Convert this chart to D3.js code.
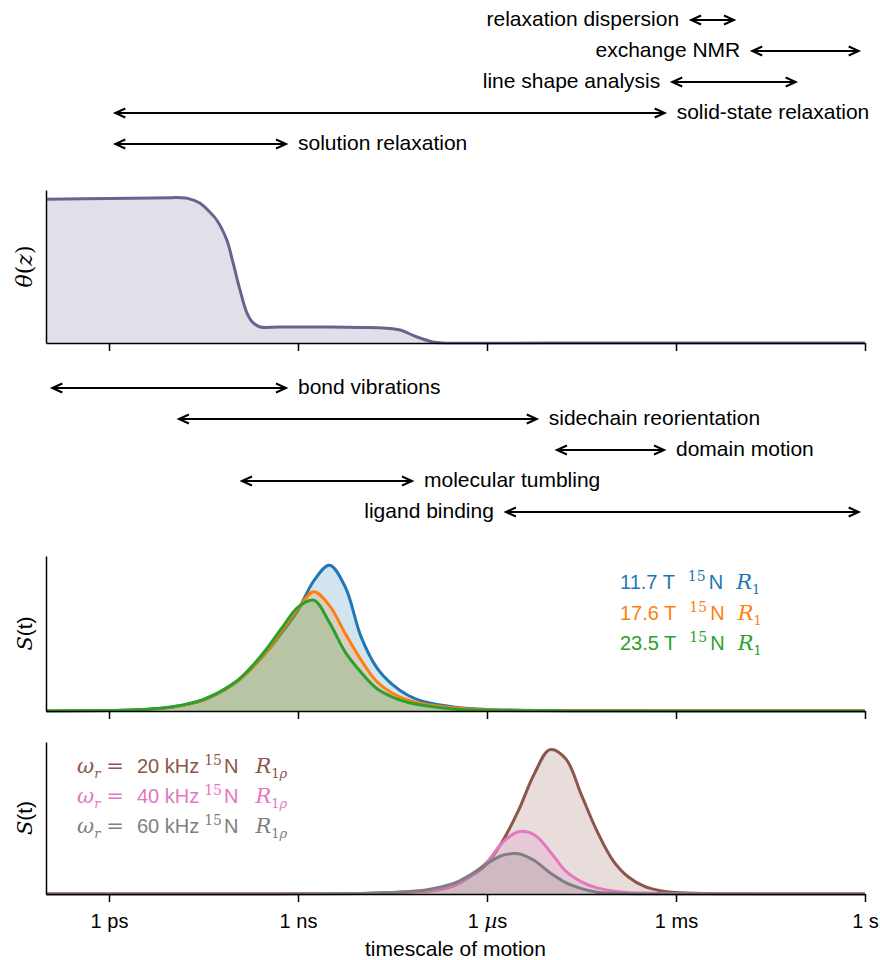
<!DOCTYPE html>
<meta charset="utf-8">
<head>
  <title>Timescales of motion</title>
</head>
<body>
<style>

  body {
    margin: 0;
    background: #fff;
  }

  svg text {
    font-family: "Liberation Sans", Arial, sans-serif;
    font-size: 21px;
    fill: #000;
  }

  svg text .math, svg text.math {
    font-family: "DejaVu Serif", "Liberation Serif", serif;
  }

  .axis path, .axis line {
    stroke: #000;
    stroke-width: 1.5px;
  }

  .axis text {
    font-size: 20px;
  }

  .arrow {
    fill: none;
    stroke: #000;
    stroke-width: 2px;
  }

</style>
<div id="chart"></div>
<script src="https://cdn.jsdelivr.net/npm/d3@7"></script>
<script>

// x values are log10 of the timescale in seconds
var tickValues = [-12, -9, -6, -3, 0];
var tickLabels = ["1 ps", "1 ns", "1 \u00b5s", "1 ms", "1 s"];

// NMR methods (top block of arrows)
var methodNames = ["relaxation dispersion", "exchange NMR", "line shape analysis", "solid-state relaxation", "solution relaxation"];
var methodStart = [-2.76, -1.79, -3.06, -11.9, -11.9];
var methodEnd   = [-2.08, -0.1, -1.1, -3.18, -9.19];
var methodSide  = ["left", "left", "left", "right", "right"];

// kinds of motion (middle block of arrows)
var motionNames = ["bond vibrations", "sidechain reorientation", "domain motion", "molecular tumbling", "ligand binding"];
var motionStart = [-12.9, -10.89, -4.89, -9.89, -5.7];
var motionEnd   = [-9.19, -5.21, -3.19, -7.19, -0.1];
var motionSide  = ["right", "right", "right", "right", "left"];

// distribution of motion theta(z)
var thetaZ      = [-13, -12, -11, -10.87, -10.75, -10.56, -10.4, -10.29, -10.13, -10.03, -9.92, -9.81, -9.71, -9.6, -9.3, -8.5, -8, -7.65, -7.38, -7.11, -6.86, -6.7, -5, 0];
var thetaValues = [0.94, 0.944, 0.95, 0.95, 0.945, 0.915, 0.856, 0.804, 0.673, 0.523, 0.346, 0.196, 0.131, 0.105, 0.104, 0.104, 0.101, 0.098, 0.085, 0.039, 0.007, 0, 0, 0];

// 15N R1 sensitivities
var r1Z      = [-13, -12, -11.5, -11, -10.5, -10, -9.75, -9.5, -9.25, -9, -8.75, -8.5, -8.25, -8, -7.75, -7.5, -7.25, -7, -6.5, -6, -5, -4, -2, 0];
var r1Fields = ["11.7", "17.6", "23.5"];
var r1At117  = [0, 0.003, 0.008, 0.025, 0.07, 0.18, 0.27, 0.38, 0.51, 0.65, 0.84, 0.94, 0.80, 0.48, 0.28, 0.17, 0.10, 0.06, 0.025, 0.01, 0.003, 0.001, 0, 0];
var r1At176  = [0, 0.003, 0.008, 0.025, 0.07, 0.18, 0.27, 0.38, 0.52, 0.66, 0.77, 0.68, 0.50, 0.33, 0.19, 0.115, 0.07, 0.045, 0.02, 0.008, 0.002, 0.001, 0, 0];
var r1At235  = [0, 0.003, 0.009, 0.027, 0.075, 0.185, 0.28, 0.40, 0.54, 0.67, 0.715, 0.57, 0.38, 0.25, 0.145, 0.09, 0.055, 0.035, 0.012, 0.005, 0.001, 0, 0, 0];

// 15N R1rho sensitivities
var r1rhoZ     = [-13, -10, -9, -8, -7.5, -7, -6.75, -6.5, -6.25, -6, -5.75, -5.5, -5.25, -5, -4.75, -4.5, -4.25, -4, -3.75, -3.5, -3.25, -3, -2.5, -2, -1, 0];
var spinRates  = ["20", "40", "60"];
var r1rhoAt20  = [0, 0, 0.001, 0.004, 0.01, 0.018, 0.03, 0.06, 0.12, 0.2, 0.35, 0.55, 0.79, 0.95, 0.89, 0.65, 0.41, 0.22, 0.11, 0.05, 0.022, 0.01, 0.003, 0.001, 0, 0];
var r1rhoAt40  = [0, 0, 0.001, 0.004, 0.01, 0.02, 0.03, 0.06, 0.12, 0.21, 0.34, 0.41, 0.39, 0.28, 0.15, 0.08, 0.04, 0.02, 0.01, 0.006, 0.004, 0.002, 0, 0, 0, 0];
var r1rhoAt60  = [0, 0, 0.001, 0.004, 0.01, 0.025, 0.045, 0.075, 0.13, 0.2, 0.255, 0.265, 0.22, 0.14, 0.075, 0.035, 0.012, 0.005, 0.002, 0, 0, 0, 0, 0, 0, 0];

(function() {

var width = 880,
    height = 960;

var svg = d3.select("#chart").append("svg")
    .attr("width", width)
    .attr("height", height);

var x = d3.scaleLinear()
    .domain([-13, 0])
    .range([46, 865]);

var tab = {blue: "#1f77b4", orange: "#ff7f0e", green: "#2ca02c",
           brown: "#8c564b", pink: "#e377c2", gray: "#7f7f7f"};

var clipCount = 0;

addArrows(methodNames, methodStart, methodEnd, methodSide, 20);
addArrows(motionNames, motionStart, motionEnd, motionSide, 388);

// panel 1: theta(z)
var p1 = addPanel(190, 343, false);
addCurve(p1, thetaZ, thetaValues, "#67648f");
addYLabel(p1, function(t) {
  t.attr("class", "math").style("font-size", "22px");
  t.append("tspan").style("font-style", "italic").text("\u03b8");
  t.append("tspan").text("(");
  t.append("tspan").style("font-style", "italic").text("z");
  t.append("tspan").text(")");
});

// panel 2: R1
var p2 = addPanel(556, 711, false);
var r1Series = [r1At117, r1At176, r1At235],
    r1Colors = [tab.blue, tab.orange, tab.green];
r1Series.forEach(function(s, i) { addCurve(p2, r1Z, s, r1Colors[i]); });
addYLabel(p2, sOfT);
r1Fields.forEach(function(f, i) {
  var t = svg.append("text")
      .attr("x", 620)
      .attr("y", 589 + i * 30.5)
      .style("fill", r1Colors[i]);
  t.append("tspan").style("font-size", "20px").text(f + " T");
  t.append("tspan").attr("class", "math").attr("dx", 13).attr("dy", -8).style("font-size", "14px").text("15");
  t.append("tspan").attr("dx", 3).attr("dy", 8).style("font-size", "20px").text("N");
  t.append("tspan").attr("class", "math").attr("dx", 13).style("font-style", "italic").text("R");
  t.append("tspan").attr("class", "math").attr("dy", 5).style("font-size", "13px").text("1");
});

// panel 3: R1rho
var p3 = addPanel(742, 894, true);
var rhoSeries = [r1rhoAt20, r1rhoAt40, r1rhoAt60],
    rhoColors = [tab.brown, tab.pink, tab.gray];
rhoSeries.forEach(function(s, i) { addCurve(p3, r1rhoZ, s, rhoColors[i]); });
addYLabel(p3, sOfT);
spinRates.forEach(function(r, i) {
  var t = svg.append("text")
      .attr("x", 77)
      .attr("y", 773 + i * 30)
      .style("fill", rhoColors[i]);
  t.append("tspan").attr("class", "math").style("font-style", "italic").text("\u03c9");
  t.append("tspan").attr("class", "math").attr("dy", 5).style("font-style", "italic").style("font-size", "13px").text("r");
  t.append("tspan").attr("class", "math").attr("dx", 6).attr("dy", -5).text("=");
  t.append("tspan").attr("dx", 13).style("font-size", "20px").text(r + " kHz");
  t.append("tspan").attr("class", "math").attr("dx", 5).attr("dy", -8).style("font-size", "14px").text("15");
  t.append("tspan").attr("dx", 2).attr("dy", 8).style("font-size", "20px").text("N");
  t.append("tspan").attr("class", "math").attr("dx", 17).style("font-style", "italic").text("R");
  t.append("tspan").attr("class", "math").attr("dy", 5).style("font-size", "13px").text("1");
  t.append("tspan").attr("class", "math").style("font-style", "italic").style("font-size", "13px").text("\u03c1");
});

svg.append("text")
    .attr("x", (x.range()[0] + x.range()[1]) / 2)
    .attr("y", 956)
    .attr("text-anchor", "middle")
    .text("timescale of motion");

function sOfT(t) {
  t.append("tspan").attr("class", "math").style("font-style", "italic").text("S");
  t.append("tspan").text("(t)");
}

function addPanel(top, bottom, showLabels) {
  var y = d3.scaleLinear()
      .domain([0, 1])
      .range([bottom, top]);

  var id = "clip-" + (clipCount++);
  svg.append("clipPath")
      .attr("id", id)
    .append("rect")
      .attr("x", x.range()[0])
      .attr("y", top - 20)
      .attr("width", x.range()[1] - x.range()[0])
      .attr("height", bottom - top + 20 + 1.5);

  var g = svg.append("g");
  var curves = g.append("g").attr("clip-path", "url(#" + id + ")");

  var xAxis = d3.axisBottom(x)
      .tickValues(tickValues)
      .tickSize(8)
      .tickSizeOuter(0)
      .tickPadding(12)
      .tickFormat(function(d, i) { return showLabels ? tickLabels[i] : ""; });

  var ax = g.append("g")
      .attr("class", "axis")
      .attr("transform", "translate(0," + bottom + ")")
      .call(xAxis);

  // the micro sign is set in math italic
  ax.selectAll("text").each(function(d) {
    var t = d3.select(this), s = t.text();
    if (s.indexOf("\u00b5") < 0) return;
    t.text(null);
    t.append("tspan").text("1 ");
    t.append("tspan").attr("class", "math").style("font-style", "italic").text("\u00b5");
    t.append("tspan").text("s");
  });

  g.append("g")
      .attr("class", "axis")
      .attr("transform", "translate(" + x.range()[0] + ",0)")
      .call(d3.axisLeft(y).tickValues([]).tickSizeOuter(0));

  return {g: curves, y: y, top: top, bottom: bottom};
}

function addCurve(panel, zs, vs, color) {
  var pts = zs.map(function(z, i) { return [z, vs[i]]; });

  var area = d3.area()
      .x(function(d) { return x(d[0]); })
      .y0(panel.y(0))
      .y1(function(d) { return panel.y(d[1]); })
      .curve(d3.curveCatmullRom.alpha(0.5));

  var line = d3.line()
      .x(function(d) { return x(d[0]); })
      .y(function(d) { return panel.y(d[1]); })
      .curve(d3.curveCatmullRom.alpha(0.5));

  panel.g.append("path")
      .datum(pts)
      .attr("d", area)
      .style("fill", color)
      .style("fill-opacity", 0.2);

  panel.g.append("path")
      .datum(pts)
      .attr("d", line)
      .style("fill", "none")
      .style("stroke", color)
      .style("stroke-width", 3);
}

function addYLabel(panel, build) {
  var t = svg.append("text")
      .attr("text-anchor", "middle")
      .attr("transform", "translate(32," + (panel.top + panel.bottom) / 2 + ") rotate(-90)");
  build(t);
}

function addArrows(names, starts, ends, sides, y0) {
  var g = svg.append("g");
  var rows = g.selectAll("g")
      .data(names)
    .enter().append("g")
      .attr("transform", function(d, i) { return "translate(0," + (y0 + i * 31) + ")"; });

  rows.append("path")
      .attr("class", "arrow")
      .attr("d", function(d, i) {
        var a = x(starts[i]), b = x(ends[i]);
        return "M" + a + ",0H" + b +
               "M" + (a + 10) + ",-4.5L" + a + ",0L" + (a + 10) + ",4.5" +
               "M" + (b - 10) + ",-4.5L" + b + ",0L" + (b - 10) + ",4.5";
      });

  rows.append("text")
      .attr("x", function(d, i) { return sides[i] === "left" ? x(starts[i]) - 12 : x(ends[i]) + 12; })
      .attr("y", 6)
      .attr("text-anchor", function(d, i) { return sides[i] === "left" ? "end" : "start"; })
      .text(function(d) { return d; });
}

})();

</script>
</body>
